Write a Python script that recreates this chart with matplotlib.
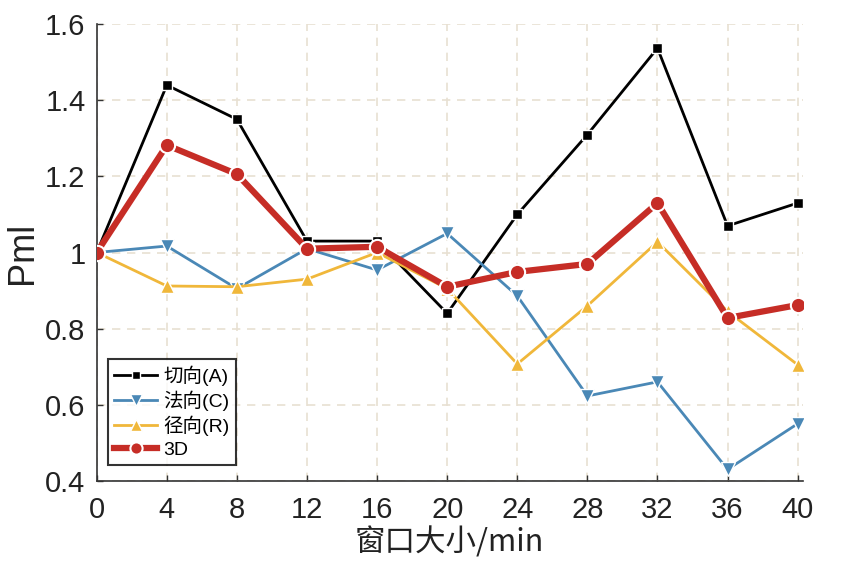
import matplotlib
matplotlib.use("Agg")
import matplotlib.pyplot as plt

plt.rcParams['font.family'] = ['Liberation Sans', 'Noto Sans CJK SC', 'DejaVu Sans']
plt.rcParams['axes.unicode_minus'] = False

# 数据
window = [0, 4, 8, 12, 16, 20, 24, 28, 32, 36, 40]
pml_a = [1.0, 1.44, 1.35, 1.03, 1.03, 0.84, 1.10, 1.31, 1.537, 1.07, 1.13]
pml_c = [1.0, 1.017, 0.905, 1.01, 0.954, 1.05, 0.886, 0.623, 0.66, 0.43, 0.55]
pml_r = [1.0, 0.912, 0.91, 0.93, 1.0, 0.905, 0.707, 0.86, 1.028, 0.845, 0.705]
pml_3d = [1.0, 1.282, 1.206, 1.01, 1.015, 0.91, 0.949, 0.97, 1.13, 0.828, 0.862]

labels = ['切向(A)', '法向(C)', '径向(R)', '3D']
y_ticks = [0.4, 0.6, 0.8, 1.0, 1.2, 1.4, 1.6]
y_tick_labels = ['0.4', '0.6', '0.8', '1', '1.2', '1.4', '1.6']

fig = plt.figure(figsize=(8.56, 5.63), dpi=100)
ax = fig.add_axes([0.113, 0.146, 0.825, 0.811])

ax.plot(window, pml_a, color='black', lw=2, marker='s', ms=7,
        mec='white', mew=1, label=labels[0], zorder=3)
ax.plot(window, pml_c, color='#4a88b6', lw=2, marker='v', ms=10,
        mec='white', mew=1, label=labels[1], zorder=3)
ax.plot(window, pml_r, color='#f0b73a', lw=2, marker='^', ms=10,
        mec='white', mew=1, label=labels[2], zorder=3)
ax.plot(window, pml_3d, color='#c62d26', lw=4.5, marker='o', ms=11,
        mec='white', mew=1.5, label=labels[3], zorder=4)

ax.set_xlim(0, 40.3)
ax.set_ylim(0.4, 1.6)
ax.set_xticks(window)
ax.set_yticks(y_ticks)
ax.set_yticklabels(y_tick_labels)

ax.grid(True, linestyle=(0, (5, 4)), color='#e8e0d2', lw=1.2)
ax.set_axisbelow(True)

for s in ['top', 'right']:
    ax.spines[s].set_visible(False)
for s in ['left', 'bottom']:
    ax.spines[s].set_color('#333333')
    ax.spines[s].set_linewidth(1.2)

ax.tick_params(direction='in', length=4, width=1, colors='#333333',
               labelsize=21, labelcolor='#222222')
ax.tick_params(axis='x', pad=11)
ax.tick_params(axis='y', pad=8)

ax.set_ylabel('Pml', fontsize=26, color='#222222', labelpad=4)
ax.set_xlabel('窗口大小/min', fontsize=22, color='#222222', labelpad=2,
              family=['Noto Sans CJK SC', 'DejaVu Sans'])

leg = ax.legend(loc='lower left', bbox_to_anchor=(0.01, 0.025),
                frameon=True, fancybox=False, edgecolor='black',
                handlelength=2.2, handletextpad=0.3, borderpad=0.35,
                labelspacing=0.25, borderaxespad=0.2, markerscale=0.8,
                prop={'family': ['Liberation Sans', 'Noto Sans CJK SC'], 'size': 14})
leg.get_frame().set_linewidth(1.5)

fig.savefig('out.png', dpi=100)
